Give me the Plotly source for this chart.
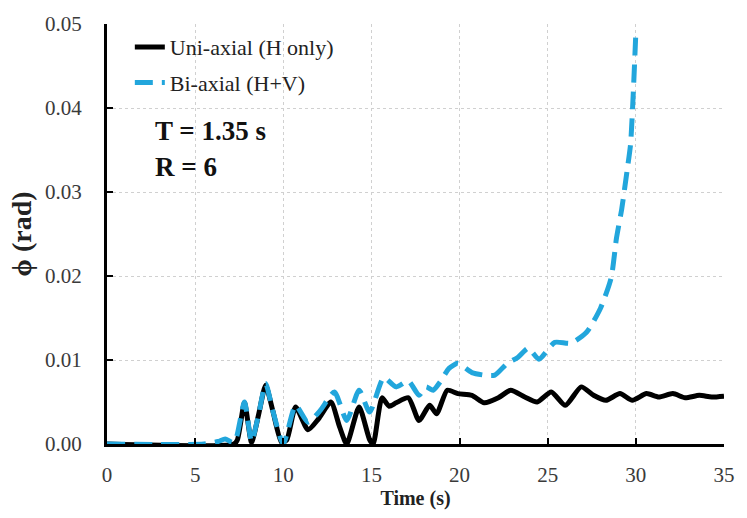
import plotly.graph_objects as go

# Uni-axial (H only)
t_uni = [0, 7.2, 7.4, 7.8, 8.2, 8.6, 9.0, 9.4, 9.9, 10.2, 10.7, 11.4, 12.0, 12.7, 13.2, 13.6,
         14.3, 14.9, 15.1, 15.6, 16.0, 16.4, 17.1, 17.7, 18.3, 18.7, 19.3, 19.9, 20.7, 21.4,
         22.2, 22.9, 23.7, 24.4, 25.2, 26.0, 26.9, 27.6, 28.3, 29.1, 29.8, 30.6, 31.3, 32.1,
         32.8, 33.6, 34.3, 35]
phi_uni = [0, 0, 0.0005, 0.0049, 0.0002, 0.0035, 0.007, 0.004, 0.0002, 0.0005, 0.0044, 0.0017,
           0.003, 0.005, 0.002, 0.0, 0.0044, 0.0005, 0.0, 0.0055, 0.0045, 0.0049, 0.0055, 0.0028,
           0.0046, 0.0036, 0.0064, 0.006, 0.0058, 0.0049, 0.0055, 0.0064, 0.0056, 0.005, 0.0062,
           0.0046, 0.0068, 0.0058, 0.0052, 0.006, 0.0052, 0.006, 0.0056, 0.006, 0.0055, 0.0058,
           0.0056, 0.0057]

# Bi-axial (H+V)
t_bi = [0, 5.5, 6.3, 6.7, 7.1, 7.3, 7.8, 8.2, 8.6, 9.0, 9.4, 10.0, 10.7, 11.4, 12.1, 12.9, 13.6,
        14.3, 14.9, 15.7, 16.4, 17.1, 17.7, 18.1, 18.5, 18.9, 19.4, 19.9, 20.7, 21.4, 22.0, 22.7,
        23.3, 23.9, 24.5, 25.4, 26.3, 27.2, 28.0, 28.6, 28.9, 29.2, 29.5, 29.7, 29.85, 30.0]
phi_bi = [0, 0, 0.0003, 0.0006, 0.0002, 0.0005, 0.005, 0.0003, 0.0035, 0.0072, 0.004, 0.0,
          0.0046, 0.0026, 0.004, 0.0062, 0.0028, 0.0064, 0.0038, 0.0079, 0.0068, 0.0075, 0.0058,
          0.0068, 0.0064, 0.0074, 0.009, 0.0096, 0.0085, 0.0082, 0.0082, 0.0096, 0.0103, 0.0114,
          0.0101, 0.0121, 0.012, 0.0133, 0.0162, 0.0198, 0.0245, 0.028, 0.0325, 0.0357, 0.0416,
          0.049]

x_ticks = [0, 5, 10, 15, 20, 25, 30, 35]
y_ticks = [0.00, 0.01, 0.02, 0.03, 0.04, 0.05]

FONT = "Liberation Serif"
BLUE = "#22a6dc"
TICK_COLOR = "#3a3a3a"

fig = go.Figure()
fig.add_trace(go.Scatter(x=t_uni, y=phi_uni, mode="lines", name="Uni-axial (H only)",
                         legend="legend",
                         line=dict(color="black", width=5, shape="spline", smoothing=0.6)))
fig.add_trace(go.Scatter(x=t_bi, y=phi_bi, mode="lines", name="Bi-axial (H+V)",
                         legend="legend2",
                         line=dict(color=BLUE, width=5, dash="18px,9px", shape="spline", smoothing=0.6)))

fig.add_annotation(x=0.075, y=0.745, xref="paper", yref="paper", xanchor="left", yanchor="middle",
                   text="<b>T = 1.35 s</b>", showarrow=False, font=dict(family=FONT, size=27, color="#111111"))
fig.add_annotation(x=0.075, y=0.66, xref="paper", yref="paper", xanchor="left", yanchor="middle",
                   text="<b>R = 6</b>", showarrow=False, font=dict(family=FONT, size=27, color="#111111"))

leg_common = dict(xanchor="left", yanchor="middle", bgcolor="rgba(0,0,0,0)",
                  font=dict(family=FONT, size=22, color="#222222"), itemwidth=30)

fig.update_layout(
    width=747, height=518,
    margin=dict(l=107, r=14, t=22, b=74),
    paper_bgcolor="white", plot_bgcolor="white",
    font=dict(family=FONT, size=21, color=TICK_COLOR),
    legend=dict(x=0.037, y=0.945, **leg_common),
    legend2=dict(x=0.037, y=0.86, **leg_common),
    showlegend=True,
)
fig.update_xaxes(range=[0, 35], tickvals=x_ticks, ticktext=[str(v) for v in x_ticks],
                 showline=True, linecolor="black", linewidth=3, ticks="inside", ticklen=6,
                 tickwidth=2, tickcolor="black", showgrid=True, gridcolor="#d0d0d0", griddash="dot",
                 gridwidth=1, zeroline=False, ticklabelstandoff=10,
                 tickfont=dict(family=FONT, size=21, color=TICK_COLOR),
                 title=dict(text="<b>Time (s)</b>", font=dict(family=FONT, size=20, color="#222222"), standoff=3))
fig.update_yaxes(range=[0, 0.05], tickvals=y_ticks, ticktext=[f"{v:.2f}" for v in y_ticks],
                 showline=True, linecolor="black", linewidth=3, ticks="inside", ticklen=6,
                 tickwidth=2, tickcolor="black", showgrid=True, gridcolor="#d0d0d0", griddash="dot",
                 gridwidth=1, zeroline=False, ticklabelstandoff=18,
                 tickfont=dict(family=FONT, size=21, color=TICK_COLOR),
                 title=dict(text="<b>ϕ (rad)</b>", font=dict(family=FONT, size=28, color="#222222"), standoff=6))

fig.write_html("out.html")
